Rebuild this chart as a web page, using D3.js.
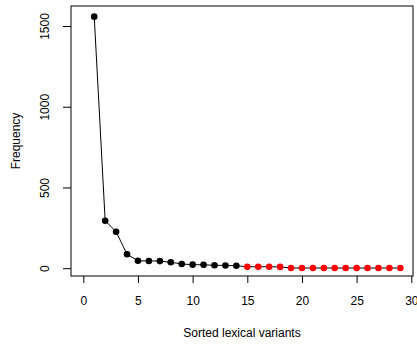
<!DOCTYPE html>
<html>
<head>
<meta charset="utf-8">
<script src="https://cdn.jsdelivr.net/npm/d3@7"></script>
<style>
  body { margin: 0; background: #fff; }
  text { font-family: "Liberation Sans", Arial, sans-serif; }
</style>
</head>
<body>
<svg id="chart" width="417" height="344"></svg>
<script>
// rank of each variant and its frequency
const ranks = d3.range(1, 30);
const freqs = [1558, 294, 226, 86, 46, 45, 44, 37, 26, 22, 21, 18, 17, 15,
  9, 9, 9, 8, 1, 1, 1, 1, 1, 1, 1, 1, 1, 1, 1];
const blackCount = 14; // first 14 points black, the rest red
const xTicks = [0, 5, 10, 15, 20, 25, 30];
const yTicks = [0, 500, 1000, 1500];

const box = { left: 71, right: 413, top: 6, bottom: 276 };

const svg = d3.select("#chart");

const x = d3.scaleLinear().domain([0, 30]).range([83.3, 411.3]);
const y = d3.scaleLinear().domain([0, 1500]).range([268.2, 26]);

// plot frame
svg.append("rect")
  .attr("x", box.left).attr("y", box.top)
  .attr("width", box.right - box.left).attr("height", box.bottom - box.top)
  .attr("fill", "none").attr("stroke", "#000").attr("stroke-width", 1);

const xAxis = svg.append("g")
  .attr("transform", `translate(0,${box.bottom})`)
  .call(d3.axisBottom(x).tickValues(xTicks).tickSize(7).tickPadding(13).tickFormat(d3.format("d")));
xAxis.select(".domain").remove();
xAxis.selectAll("text").attr("font-size", "12px").attr("fill", "#000");

// y labels are rotated like R's default las=0
const yAxis = svg.append("g")
  .attr("transform", `translate(${box.left},0)`)
  .call(d3.axisLeft(y).tickValues(yTicks).tickSize(8).tickFormat(d3.format("d")));
yAxis.select(".domain").remove();
yAxis.selectAll("text")
  .attr("font-size", "12px").attr("fill", "#000")
  .attr("text-anchor", "middle")
  .attr("x", 0).attr("dy", "0.35em")
  .attr("transform", "translate(-26,0) rotate(-90)");

// line through all points
const line = d3.line().x((d, i) => x(ranks[i])).y((d) => y(d));
svg.append("path")
  .datum(freqs)
  .attr("d", line)
  .attr("fill", "none").attr("stroke", "#000").attr("stroke-width", 1);

svg.selectAll(".pt")
  .data(freqs)
  .enter()
  .append("circle")
  .attr("class", "pt")
  .attr("cx", (d, i) => x(ranks[i]))
  .attr("cy", (d) => y(d))
  .attr("r", 3.3)
  .attr("fill", (d, i) => (i < blackCount ? "#000" : "#ff0000"));

svg.append("text")
  .attr("x", (box.left + box.right) / 2).attr("y", 333)
  .attr("text-anchor", "middle").attr("dy", "0.35em")
  .attr("font-size", "12px")
  .text("Sorted lexical variants");

svg.append("text")
  .attr("transform", `translate(16,${(box.top + box.bottom) / 2}) rotate(-90)`)
  .attr("text-anchor", "middle").attr("dy", "0.35em")
  .attr("font-size", "12px")
  .text("Frequency");
</script>
</body>
</html>
